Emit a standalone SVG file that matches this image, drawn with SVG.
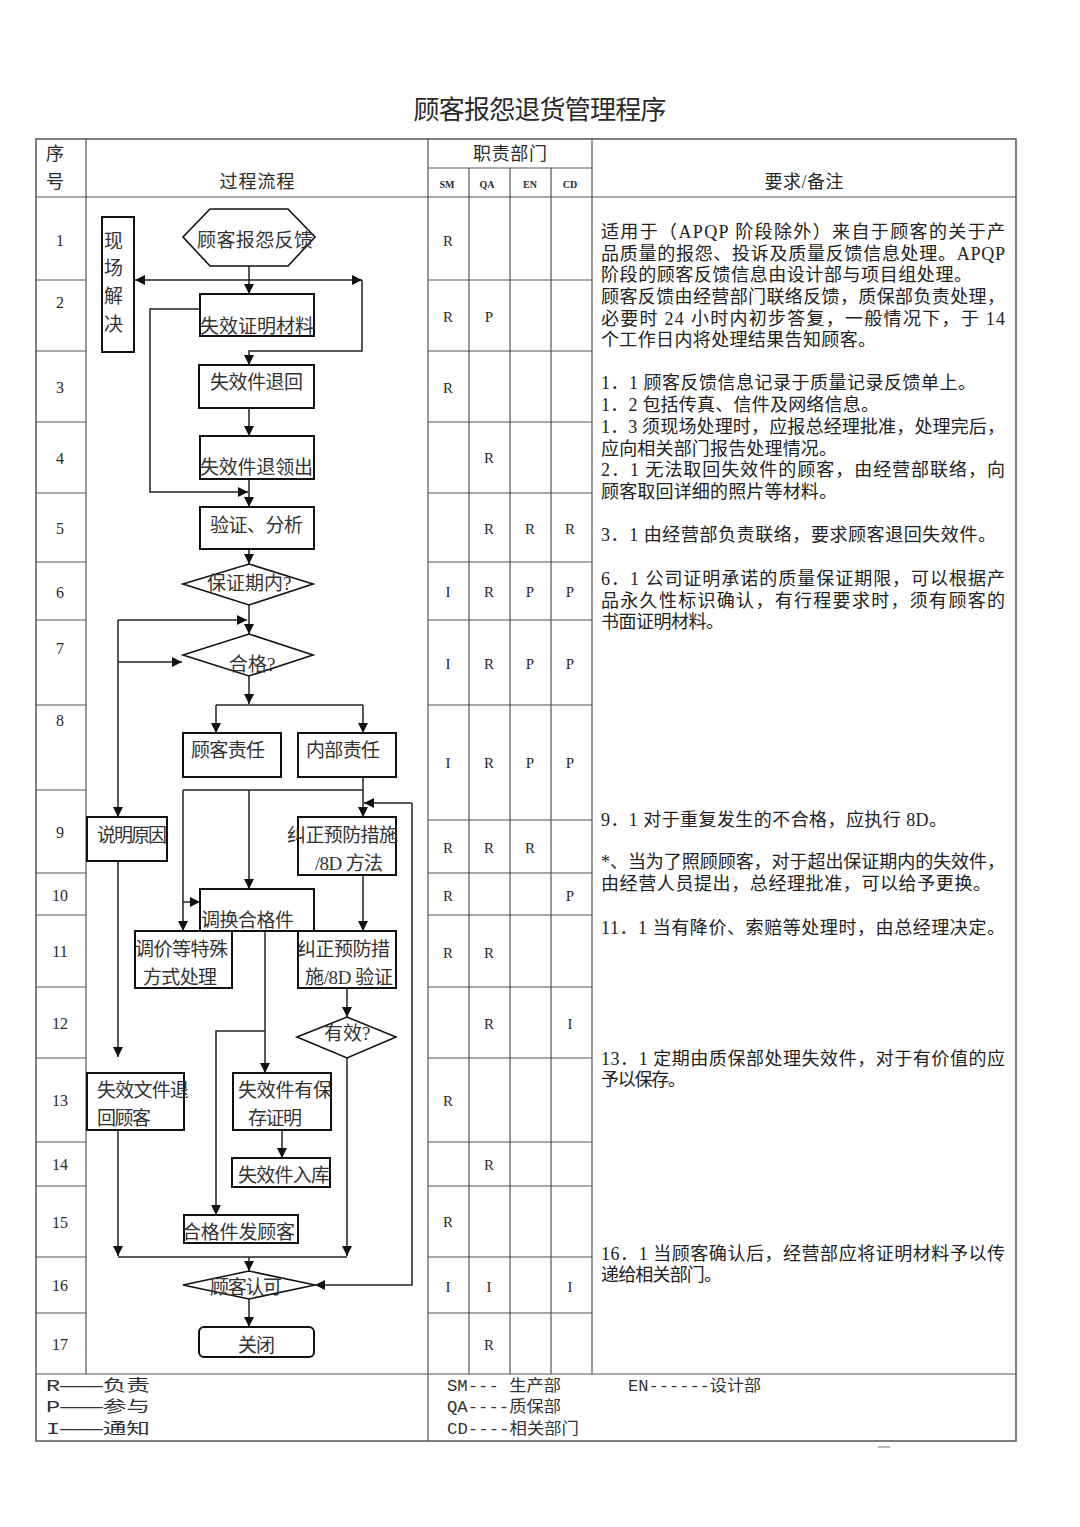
<svg xmlns="http://www.w3.org/2000/svg" width="1080" height="1527" viewBox="0 0 1080 1527">
<defs>
<style>
.tx{font-family:"Liberation Serif","Noto Sans CJK SC",serif;fill:#2a2a2a}
.fl{font-size:19px;fill:#333}
.nt{font-size:18px;fill:#222}
.num{font-size:16px;text-anchor:middle}
.dl{font-size:15px;text-anchor:middle}
.hd{font-size:18px}
.sub{font-size:10px;font-weight:bold;text-anchor:middle}
.ft{font-family:"Liberation Mono","Noto Sans CJK SC",monospace;font-size:16px;fill:#333}
.grid line{stroke:#555;stroke-width:1.2}
.box{fill:#fff;stroke:#111;stroke-width:2}
.dia{fill:#fff;stroke:#111;stroke-width:1.6}
.cn{fill:none;stroke:#222;stroke-width:1.5}
</style>
<marker id="ah" viewBox="0 0 10 10" refX="10" refY="5" markerWidth="10" markerHeight="10" markerUnits="userSpaceOnUse" orient="auto-start-reverse">
<path d="M0,0 L10,5 L0,10 Z" fill="#111"/>
</marker>
</defs>
<rect width="1080" height="1527" fill="#fff"/>

<text class="tx" x="540" y="119" font-size="26" text-anchor="middle" textLength="253" fill="#222">顾客报怨退货管理程序</text>

<g id="table" class="grid">
<rect x="36" y="139" width="980" height="1302" fill="none" stroke="#555" stroke-width="1.5"/>
<line x1="86" y1="139" x2="86" y2="1374"/>
<line x1="428" y1="139" x2="428" y2="1441"/>
<line x1="592" y1="139" x2="592" y2="1374"/>
<line x1="469" y1="168" x2="469" y2="1374"/>
<line x1="510" y1="168" x2="510" y2="1374"/>
<line x1="551" y1="168" x2="551" y2="1374"/>
<line x1="428" y1="168" x2="592" y2="168"/>
<line x1="36" y1="197" x2="1016" y2="197"/>
<line x1="36" y1="1374" x2="1016" y2="1374"/>
<line x1="36" y1="280" x2="86" y2="280"/><line x1="36" y1="351" x2="86" y2="351"/><line x1="36" y1="422" x2="86" y2="422"/><line x1="36" y1="493" x2="86" y2="493"/><line x1="36" y1="562" x2="86" y2="562"/><line x1="36" y1="620" x2="86" y2="620"/><line x1="36" y1="705" x2="86" y2="705"/><line x1="36" y1="790" x2="86" y2="790"/><line x1="36" y1="873" x2="86" y2="873"/><line x1="36" y1="915" x2="86" y2="915"/><line x1="36" y1="987" x2="86" y2="987"/><line x1="36" y1="1058" x2="86" y2="1058"/><line x1="36" y1="1142" x2="86" y2="1142"/><line x1="36" y1="1186" x2="86" y2="1186"/><line x1="36" y1="1257" x2="86" y2="1257"/><line x1="36" y1="1313" x2="86" y2="1313"/>
<line x1="428" y1="280" x2="592" y2="280"/><line x1="428" y1="351" x2="592" y2="351"/><line x1="428" y1="422" x2="592" y2="422"/><line x1="428" y1="493" x2="592" y2="493"/><line x1="428" y1="562" x2="592" y2="562"/><line x1="428" y1="620" x2="592" y2="620"/><line x1="428" y1="705" x2="592" y2="705"/><line x1="428" y1="820" x2="592" y2="820"/><line x1="428" y1="873" x2="592" y2="873"/><line x1="428" y1="915" x2="592" y2="915"/><line x1="428" y1="987" x2="592" y2="987"/><line x1="428" y1="1058" x2="592" y2="1058"/><line x1="428" y1="1142" x2="592" y2="1142"/><line x1="428" y1="1186" x2="592" y2="1186"/><line x1="428" y1="1257" x2="592" y2="1257"/><line x1="428" y1="1313" x2="592" y2="1313"/>
</g>
<line x1="878" y1="1447" x2="890" y2="1447" stroke="#777" stroke-width="1"/>

<g id="header" class="tx hd">
<text x="55" y="160" text-anchor="middle">序</text>
<text x="55" y="188" text-anchor="middle">号</text>
<text x="257" y="188" text-anchor="middle" textLength="75">过程流程</text>
<text x="510" y="160" text-anchor="middle" textLength="74">职责部门</text>
<text x="804" y="188" text-anchor="middle" textLength="79">要求/备注</text>
<text class="sub" x="447" y="188">SM</text>
<text class="sub" x="487" y="188">QA</text>
<text class="sub" x="530" y="188">EN</text>
<text class="sub" x="570" y="188">CD</text>
</g>

<g id="rownums" class="tx num">
<text x="60" y="246">1</text><text x="60" y="308">2</text><text x="60" y="393">3</text><text x="60" y="464">4</text><text x="60" y="534">5</text><text x="60" y="598">6</text><text x="60" y="654">7</text><text x="60" y="726">8</text><text x="60" y="838">9</text><text x="60" y="901">10</text><text x="60" y="957">11</text><text x="60" y="1029">12</text><text x="60" y="1106">13</text><text x="60" y="1170">14</text><text x="60" y="1228">15</text><text x="60" y="1291">16</text><text x="60" y="1350">17</text>
</g>

<g id="duties" class="tx dl">
<text x="448" y="246">R</text>
<text x="448" y="322">R</text><text x="489" y="322">P</text>
<text x="448" y="393">R</text>
<text x="489" y="463">R</text>
<text x="489" y="534">R</text><text x="530" y="534">R</text><text x="570" y="534">R</text>
<text x="448" y="597">I</text><text x="489" y="597">R</text><text x="530" y="597">P</text><text x="570" y="597">P</text>
<text x="448" y="669">I</text><text x="489" y="669">R</text><text x="530" y="669">P</text><text x="570" y="669">P</text>
<text x="448" y="768">I</text><text x="489" y="768">R</text><text x="530" y="768">P</text><text x="570" y="768">P</text>
<text x="448" y="853">R</text><text x="489" y="853">R</text><text x="530" y="853">R</text>
<text x="448" y="901">R</text><text x="570" y="901">P</text>
<text x="448" y="958">R</text><text x="489" y="958">R</text>
<text x="489" y="1029">R</text><text x="570" y="1029">I</text>
<text x="448" y="1106">R</text>
<text x="489" y="1170">R</text>
<text x="448" y="1227">R</text>
<text x="448" y="1292">I</text><text x="489" y="1292">I</text><text x="570" y="1292">I</text>
<text x="489" y="1350">R</text>
</g>

<g id="notes" class="tx nt">
<text x="601" y="238" textLength="404">适用于（APQP 阶段除外）来自于顾客的关于产</text>
<text x="601" y="260" textLength="404">品质量的报怨、投诉及质量反馈信息处理。APQP</text>
<text x="601" y="281" textLength="371">阶段的顾客反馈信息由设计部与项目组处理。</text>
<text x="601" y="303" textLength="404">顾客反馈由经营部门联络反馈，质保部负责处理，</text>
<text x="601" y="325" textLength="404">必要时 24 小时内初步答复，一般情况下，于 14</text>
<text x="601" y="346" textLength="275">个工作日内将处理结果告知顾客。</text>
<text x="601" y="389" textLength="375">1．1 顾客反馈信息记录于质量记录反馈单上。</text>
<text x="601" y="411" textLength="278">1．2 包括传真、信件及网络信息。</text>
<text x="601" y="433" textLength="404">1．3 须现场处理时，应报总经理批准，处理完后，</text>
<text x="601" y="455" textLength="236">应向相关部门报告处理情况。</text>
<text x="601" y="476" textLength="404">2．1 无法取回失效件的顾客，由经营部联络，向</text>
<text x="601" y="498" textLength="236">顾客取回详细的照片等材料。</text>
<text x="601" y="541" textLength="395">3．1 由经营部负责联络，要求顾客退回失效件。</text>
<text x="601" y="585" textLength="404">6．1 公司证明承诺的质量保证期限，可以根据产</text>
<text x="601" y="607" textLength="404">品永久性标识确认，有行程要求时，须有顾客的</text>
<text x="601" y="628" textLength="123">书面证明材料。</text>
<text x="601" y="826" textLength="346">9．1 对于重复发生的不合格，应执行 8D。</text>
<text x="601" y="868" textLength="404">*、当为了照顾顾客，对于超出保证期内的失效件，</text>
<text x="601" y="890" textLength="390">由经营人员提出，总经理批准，可以给予更换。</text>
<text x="601" y="934" textLength="404">11．1 当有降价、索赔等处理时，由总经理决定。</text>
<text x="601" y="1065" textLength="404">13．1 定期由质保部处理失效件，对于有价值的应</text>
<text x="601" y="1086" textLength="85">予以保存。</text>
<text x="601" y="1260" textLength="404">16．1 当顾客确认后，经营部应将证明材料予以传</text>
<text x="601" y="1281" textLength="121">递给相关部门。</text>
</g>

<g id="legend">
<text class="ft" x="46" y="1391" textLength="104" lengthAdjust="spacingAndGlyphs">R———负责</text>
<text class="ft" x="46" y="1412" textLength="104" lengthAdjust="spacingAndGlyphs">P———参与</text>
<text class="ft" x="46" y="1434" textLength="104" lengthAdjust="spacingAndGlyphs">I———通知</text>
<text class="ft" x="447" y="1391" textLength="114" lengthAdjust="spacingAndGlyphs">SM--- 生产部</text>
<text class="ft" x="447" y="1412" textLength="114" lengthAdjust="spacingAndGlyphs">QA----质保部</text>
<text class="ft" x="447" y="1434" textLength="132" lengthAdjust="spacingAndGlyphs">CD----相关部门</text>
<text class="ft" x="628" y="1391" textLength="133" lengthAdjust="spacingAndGlyphs">EN------设计部</text>
</g>

<g id="connectors" class="cn">
<path d="M249,266 V294" marker-end="url(#ah)"/>
<path d="M135,280 H362" marker-start="url(#ah)" marker-end="url(#ah)"/>
<path d="M362,280 V351 H249 V365" marker-end="url(#ah)"/>
<path d="M200,309 H150 V492 H248" marker-end="url(#ah)"/>
<path d="M249,408 V436" marker-end="url(#ah)"/>
<path d="M249,479 V507" marker-end="url(#ah)"/>
<path d="M249,549 V564" marker-end="url(#ah)"/>
<path d="M249,605 V634" marker-end="url(#ah)"/>
<path d="M118,620 H247" marker-end="url(#ah)"/>
<path d="M118,620 V817" marker-end="url(#ah)"/>
<path d="M118,662 H182" marker-end="url(#ah)"/>
<path d="M249,676 V704" marker-end="url(#ah)"/>
<path d="M216,705 H363"/>
<path d="M216,705 V733" marker-end="url(#ah)"/>
<path d="M363,705 V733" marker-end="url(#ah)"/>
<path d="M363,777 V817" marker-end="url(#ah)"/>
<path d="M183,790 H363"/>
<path d="M183,790 V931" marker-end="url(#ah)"/>
<path d="M183,902 H200" marker-end="url(#ah)"/>
<path d="M249,790 V889" marker-end="url(#ah)"/>
<path d="M412,803 H364" marker-end="url(#ah)"/>
<path d="M412,803 V1285 H315" marker-end="url(#ah)"/>
<path d="M363,875 V931" marker-end="url(#ah)"/>
<path d="M265,931 V1073" marker-end="url(#ah)"/>
<path d="M347,988 V1017" marker-end="url(#ah)"/>
<path d="M347,1058 V1256" marker-end="url(#ah)"/>
<path d="M265,1031 H216 V1215" marker-end="url(#ah)"/>
<path d="M118,861 V1057" marker-end="url(#ah)"/>
<path d="M118,1130 V1256" marker-end="url(#ah)"/>
<path d="M118,1257 H347"/>
<path d="M249,1257 V1271" marker-end="url(#ah)"/>
<path d="M282,1130 V1158" marker-end="url(#ah)"/>
<path d="M249,1299 V1327" marker-end="url(#ah)"/>
</g>

<g id="n-start"><polygon class="dia" points="183,237 210,209 288,209 315,237 288,266 210,266"/><text class="tx fl" x="197" y="247" textLength="116">顾客报怨反馈</text></g>
<g id="n-onsite"><rect class="box" x="102" y="217" width="32" height="135"/><text class="tx fl" x="104" y="248">现</text><text class="tx fl" x="104" y="275">场</text><text class="tx fl" x="104" y="303">解</text><text class="tx fl" x="104" y="331">决</text></g>
<g id="n-proof"><rect class="box" x="200" y="294" width="114" height="42"/><text class="tx fl" x="200" y="333" textLength="114">失效证明材料</text></g>
<g id="n-return"><rect class="box" x="199" y="365" width="115" height="43"/><text class="tx fl" x="210" y="389" textLength="93">失效件退回</text></g>
<g id="n-out"><rect class="box" x="200" y="436" width="114" height="43"/><text class="tx fl" x="200" y="474" textLength="113">失效件退领出</text></g>
<g id="n-verify"><rect class="box" x="200" y="507" width="114" height="42"/><text class="tx fl" x="210" y="532" textLength="93">验证、分析</text></g>
<g id="n-warranty"><polygon class="dia" points="183,584 249,564 313,584 249,605"/><text class="tx fl" x="207" y="590">保证期内?</text></g>
<g id="n-ok"><polygon class="dia" points="183,655 249,634 313,655 249,676"/><text class="tx fl" x="229" y="671">合格?</text></g>
<g id="n-cust"><rect class="box" x="183" y="733" width="98" height="44"/><text class="tx fl" x="191" y="757" textLength="74">顾客责任</text></g>
<g id="n-internal"><rect class="box" x="298" y="733" width="98" height="44"/><text class="tx fl" x="306" y="757" textLength="74">内部责任</text></g>
<g id="n-explain"><rect class="box" x="87" y="817" width="80" height="44"/><text class="tx fl" x="97" y="842" textLength="70">说明原因</text></g>
<g id="n-capa"><rect class="box" x="298" y="817" width="98" height="58"/><text class="tx fl" x="287" y="842" textLength="111">纠正预防措施</text><text class="tx fl" x="315" y="870" textLength="68">/8D 方法</text></g>
<g id="n-replace"><rect class="box" x="200" y="889" width="114" height="42"/><text class="tx fl" x="201" y="927" textLength="93">调换合格件</text></g>
<g id="n-price"><rect class="box" x="135" y="931" width="97" height="57"/><text class="tx fl" x="135" y="956" textLength="93">调价等特殊</text><text class="tx fl" x="143" y="984" textLength="74">方式处理</text></g>
<g id="n-capav"><rect class="box" x="298" y="931" width="98" height="57"/><text class="tx fl" x="297" y="956" textLength="93">纠正预防措</text><text class="tx fl" x="305" y="984" textLength="88">施/8D 验证</text></g>
<g id="n-effective"><polygon class="dia" points="297,1037 347,1017 396,1037 347,1058"/><text class="tx fl" x="324" y="1040">有效?</text></g>
<g id="n-docs"><rect class="box" x="87" y="1073" width="97" height="57"/><text class="tx fl" x="97" y="1097" textLength="92">失效文件退</text><text class="tx fl" x="97" y="1125" textLength="54">回顾客</text></g>
<g id="n-keep"><rect class="box" x="233" y="1073" width="98" height="57"/><text class="tx fl" x="238" y="1097" textLength="94">失效件有保</text><text class="tx fl" x="248" y="1125" textLength="54">存证明</text></g>
<g id="n-store"><rect class="box" x="232" y="1158" width="98" height="29" stroke-width="2.5"/><text class="tx fl" x="238" y="1182" textLength="92">失效件入库</text></g>
<g id="n-ship"><rect class="box" x="184" y="1215" width="114" height="28" stroke-width="2.5"/><text class="tx fl" x="182" y="1239" textLength="113">合格件发顾客</text></g>
<g id="n-accept"><polygon class="dia" points="183,1285 249,1271 315,1285 249,1299"/><text class="tx fl" x="210" y="1294" textLength="72">顾客认可</text></g>
<g id="n-close"><rect class="box" x="199" y="1327" width="115" height="30" rx="5" stroke-width="1.6"/><text class="tx fl" x="238" y="1352" textLength="37">关闭</text></g>
</svg>
